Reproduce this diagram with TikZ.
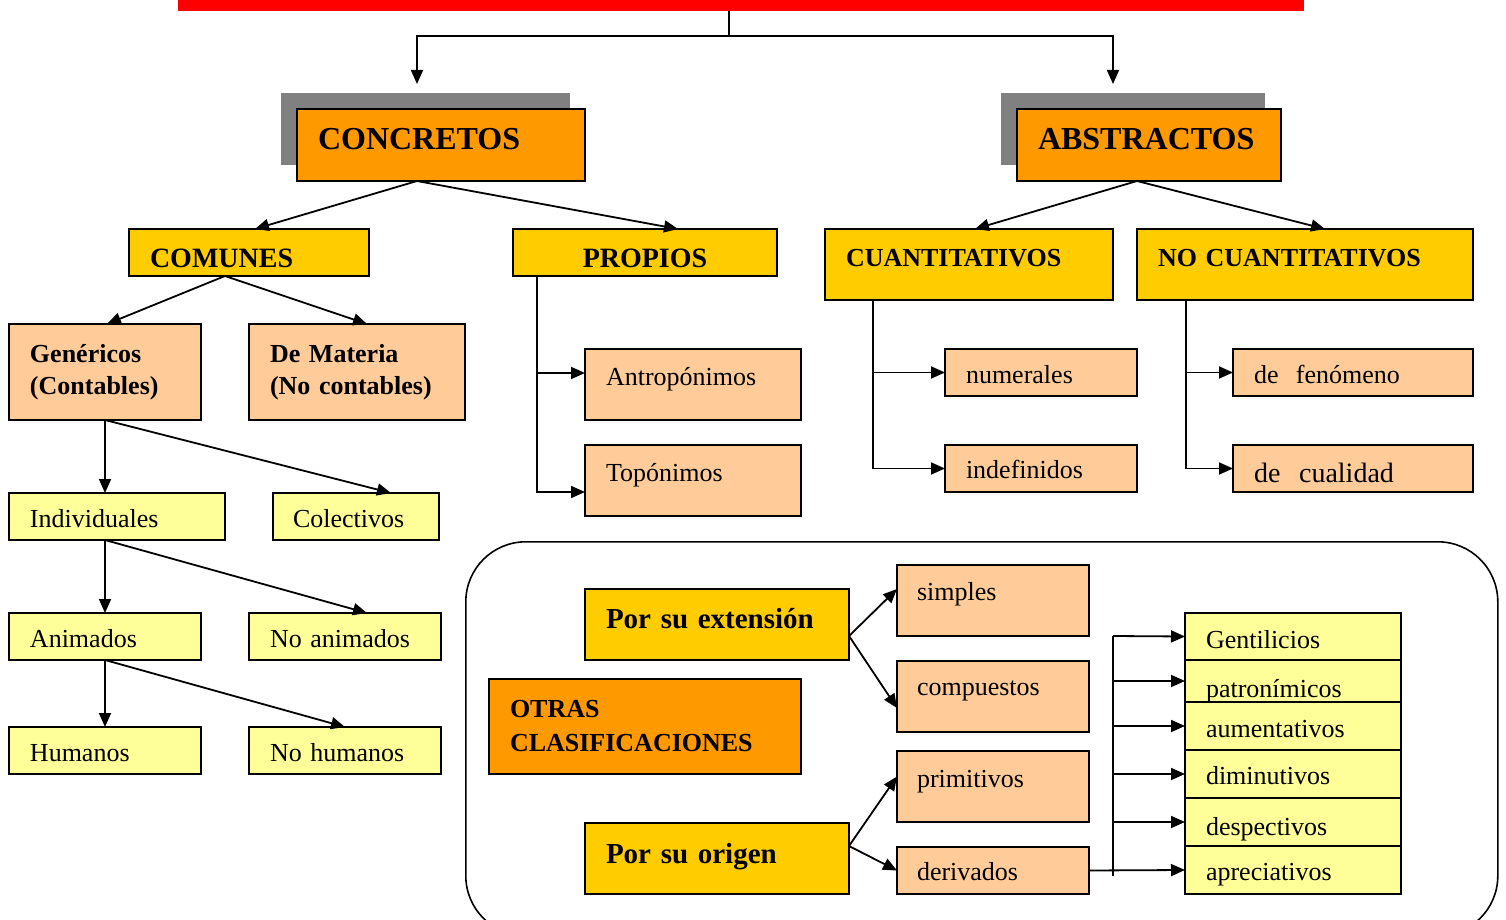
\documentclass[tikz,border=0pt]{standalone}
\usepackage{fontspec}
\setmainfont{Liberation Serif}
\usetikzlibrary{arrows.meta}
\definecolor{rojo}{HTML}{FF0000}
\definecolor{sombra}{HTML}{808080}
\definecolor{naranja}{HTML}{FF9900}
\definecolor{oro}{HTML}{FFCC00}
\definecolor{melocoton}{HTML}{FFCC99}
\definecolor{amarillo}{HTML}{FFFF99}
\tikzset{>={Triangle[length=7pt,width=6pt]}}

\begin{document}
\begin{tikzpicture}[x=0.5pt,y=-0.5pt,line width=0.9pt,
                    box/.style={draw,line width=0.9pt,anchor=north west,align=left,outer sep=0pt,
                                inner ysep=0pt,inner xsep=10.5pt,
                                font=\fontsize{13}{16}\selectfont},
                    naranja/.style={box,fill=naranja,font=\bfseries\fontsize{16}{19}\selectfont},
                    oro/.style={box,fill=oro,font=\bfseries\fontsize{14}{17}\selectfont},
                    melocoton/.style={box,fill=melocoton},
                    amarillo/.style={box,fill=amarillo},
                    sombra/.style={fill=sombra,anchor=north west,inner sep=0pt,outer sep=0pt}]
      \useasboundingbox (0,0) rectangle (1506,920);

      % marco de las otras clasificaciones
      \node[draw,line width=0.8pt,rounded corners=30pt,anchor=north west,inner sep=0pt,
            minimum width=516pt,minimum height=197pt] (marco) at (465,541) {};

      % titulo
      \node[fill=rojo,anchor=south west,inner sep=0pt,outer sep=0pt,minimum width=563pt,minimum height=10pt] (titulo) at (178,11) {};
      \coordinate (reparto)    at (729,36);
      \coordinate (flechaconc) at (417,84);
      \coordinate (flechaabst) at (1113,84);

      % primer nivel
      \node[sombra,minimum width=144.5pt,minimum height=36pt] (concsombra) at (281,93)  {};
      \node[sombra,minimum width=132pt,minimum height=36pt]   (abstsombra) at (1001,93) {};
      \node[naranja,text width=123pt,text height=20.5pt,text depth=15.5pt] (concretos)  at (297,109)  {CONCRETOS};
      \node[naranja,text width=111pt,text height=20.5pt,text depth=15.5pt] (abstractos) at (1017,109) {ABSTRACTOS};

      % concretos
      \node[oro,text width=99pt,text height=19pt,text depth=4.5pt]               (comunes) at (129,229) {COMUNES};
      \node[oro,text width=111pt,align=center,text height=19pt,text depth=4.5pt] (propios) at (513,229) {PROPIOS};
      \node[melocoton,text width=75pt,minimum height=48pt,font=\bfseries\fontsize{13}{16}\selectfont] (genericos)  at (9,324)   {Genéricos\\(Contables)};
      \node[melocoton,text width=87pt,minimum height=48pt,font=\bfseries\fontsize{13}{16}\selectfont] (demateria)  at (249,324) {De Materia\\(No contables)};
      \node[melocoton,text width=87pt,text height=18pt,text depth=17.5pt] (antroponimos) at (585,349) {Antropónimos};
      \node[melocoton,text width=87pt,text height=18pt,text depth=17.5pt] (toponimos)    at (585,445) {Topónimos};
      \node[amarillo,text width=87pt,text height=17pt,text depth=6.5pt] (individuales) at (9,493)   {Individuales};
      \node[amarillo,text width=63pt,inner xsep=10pt,text height=17pt,text depth=6.5pt] (colectivos) at (273,493) {Colectivos};
      \node[amarillo,text width=75pt,text height=17pt,text depth=6.5pt] (animados)   at (9,613)   {Animados};
      \node[amarillo,text width=75pt,text height=17pt,text depth=6.5pt] (noanimados) at (249,613) {No animados};
      \node[amarillo,text width=75pt,text height=17pt,text depth=6.5pt] (humanos)    at (9,727)   {Humanos};
      \node[amarillo,text width=75pt,text height=17pt,text depth=6.5pt] (nohumanos)  at (249,727) {No humanos};

      % abstractos
      \node[oro,text width=123pt,text height=18.5pt,text depth=17pt,font=\bfseries\fontsize{13}{16}\selectfont] (cuantitativos)   at (825,229)  {CUANTITATIVOS};
      \node[oro,text width=147pt,text height=18.5pt,text depth=17pt,font=\bfseries\fontsize{13}{16}\selectfont] (nocuantitativos) at (1137,229) {NO CUANTITATIVOS};
      \node[melocoton,text width=75pt,text height=17pt,text depth=6.5pt]   (numerales)   at (945,349)  {numerales};
      \node[melocoton,text width=75pt,text height=16.5pt,text depth=7pt]   (indefinidos) at (945,445)  {indefinidos};
      \node[melocoton,text width=99pt,text height=17pt,text depth=6.5pt]   (fenomeno)    at (1233,349) {de~ fenómeno};
      \node[melocoton,text width=99pt,text height=18.5pt,text depth=5pt,font=\fontsize{14}{17}\selectfont] (cualidad) at (1233,445) {de~ cualidad};

      % otras clasificaciones
      \node[oro,text width=111pt,text height=19.5pt,text depth=16pt,font=\bfseries\fontsize{14.5}{17}\selectfont] (extension) at (585,589) {Por su extensión};
      \node[naranja,text width=135pt,minimum height=47.5pt,font=\bfseries\fontsize{13}{17}\selectfont] (otras) at (489,679) {OTRAS\\CLASIFICACIONES};
      \node[oro,text width=111pt,text height=20pt,text depth=15.5pt,font=\bfseries\fontsize{14.5}{17}\selectfont] (origen) at (585,823) {Por su origen};
      \node[melocoton,text width=76pt,inner xsep=10pt,text height=17.5pt,text depth=18pt]   (simples)    at (897,565) {simples};
      \node[melocoton,text width=76pt,inner xsep=10pt,text height=17pt,text depth=18.5pt]   (compuestos) at (897,661) {compuestos};
      \node[melocoton,text width=76pt,inner xsep=10pt,text height=18pt,text depth=17.5pt]   (primitivos) at (897,751) {primitivos};
      \node[melocoton,text width=76pt,inner xsep=10pt,text height=16.5pt,text depth=7pt]    (derivados)  at (897,847) {derivados};
      \node[amarillo,text width=87pt,text height=17.5pt,text depth=6pt]   (gentilicios)  at (1185,613)               {Gentilicios};
      \node[amarillo,text width=87pt,text height=18.5pt,text depth=2.5pt] (patronimicos) at (gentilicios.south west)  {patronímicos};
      \node[amarillo,text width=87pt,text height=17.5pt,text depth=6.5pt] (aumentativos) at (patronimicos.south west) {aumentativos};
      \node[amarillo,text width=87pt,text height=17pt,text depth=7pt]     (diminutivos)  at (aumentativos.south west) {diminutivos};
      \node[amarillo,text width=87pt,text height=18.5pt,text depth=5.5pt] (despectivos)  at (diminutivos.south west)  {despectivos};
      \node[amarillo,text width=87pt,text height=17pt,text depth=7pt]     (apreciativos) at (despectivos.south west)  {apreciativos};
      \coordinate (bus)    at (1113,636);
      \coordinate (busfin) at (1113,876);

      % conectores
      \draw (titulo.south -| reparto) -- (reparto);
      \draw[->] (reparto) -| (flechaconc);
      \draw[->] (reparto) -| (flechaabst);

      \path[->] ([xshift=-12pt]concretos.south)  edge ([xshift=3pt]comunes.north)
                                                 edge ([xshift=16.5pt]propios.north)
                ([xshift=-6pt]abstractos.south)  edge ([xshift=3pt]cuantitativos.north)
                                                 edge ([xshift=10pt]nocuantitativos.north)
                ([xshift=-12pt]comunes.south)    edge ([xshift=1pt]genericos.north)
                                                 edge ([xshift=5pt]demateria.north)
                (genericos.south)                edge ([xshift=-6pt]individuales.north)
                                                 edge ([xshift=17.5pt]colectivos.north)
                ([xshift=-6pt]individuales.south) edge (animados.north)
                                                 edge ([xshift=11pt]noanimados.north)
                (animados.south)                 edge (humanos.north)
                                                 edge (nohumanos.north)
                ([yshift=-5.75pt]extension.east) edge ([yshift=5.75pt]simples.west)
                                                 edge ([yshift=-5.75pt]compuestos.west)
                ([yshift=6.25pt]origen.east)     edge ([yshift=5pt]primitivos.west)
                                                 edge (derivados.west);

      \draw[->] ([xshift=12pt]propios.south west) |- ([yshift=5.75pt]antroponimos.west);
      \draw[->] ([xshift=12pt]propios.south west) |- ([yshift=-5.75pt]toponimos.west);
      \draw[->] ([xshift=24pt]cuantitativos.south west) |- (numerales.west);
      \draw[->] ([xshift=24pt]cuantitativos.south west) |- (indefinidos.west);
      \draw[->] ([xshift=24.5pt]nocuantitativos.south west) |- (fenomeno.west);
      \draw[->] ([xshift=24.5pt]nocuantitativos.south west) |- (cualidad.west);

      \draw (bus) -- (busfin);
      \draw[->] (derivados.east) -- (apreciativos.west);
      \draw[->] (bus) -- (gentilicios.west);
      \draw[->] (bus |- patronimicos.west) -- (patronimicos.west);
      \draw[->] (bus |- aumentativos.west) -- (aumentativos.west);
      \draw[->] (bus |- diminutivos.west)  -- (diminutivos.west);
      \draw[->] (bus |- despectivos.west)  -- (despectivos.west);
\end{tikzpicture}
\end{document}
